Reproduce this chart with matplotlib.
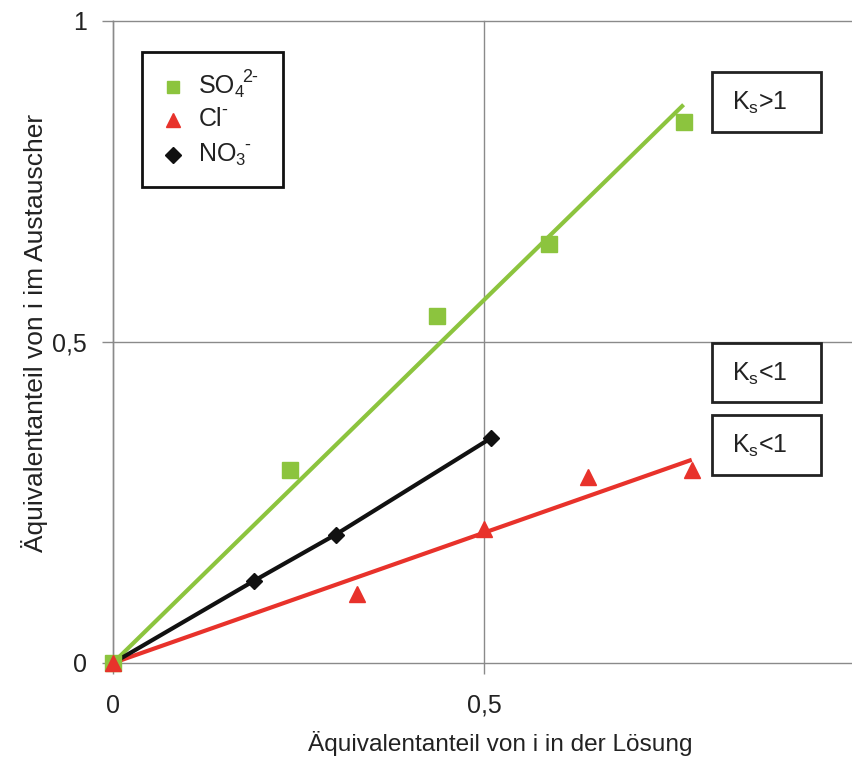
import numpy as np
import matplotlib
matplotlib.use("Agg")
import matplotlib.pyplot as plt
from matplotlib.patches import Rectangle
from matplotlib.lines import Line2D

plt.rcParams['font.family'] = ['Liberation Sans', 'DejaVu Sans']
plt.rcParams['mathtext.fontset'] = 'custom'
plt.rcParams['mathtext.rm'] = 'Liberation Sans'
plt.rcParams['mathtext.it'] = 'Liberation Sans'
plt.rcParams['mathtext.default'] = 'rm'

# Measured equivalent fractions (solution x, exchanger y)
so4_x = [0.0, 0.239, 0.437, 0.587, 0.769]
so4_y = [0.0, 0.300, 0.541, 0.653, 0.842]
cl_x = [0.0, 0.329, 0.500, 0.640, 0.780]
cl_y = [0.0, 0.108, 0.208, 0.289, 0.300]
no3_x = [0.0, 0.190, 0.300, 0.509]
no3_y = [0.0, 0.128, 0.200, 0.350]

ticks = [0, 0.5, 1]
xtick_labels = ["0", "0,5", ""]
ytick_labels = ["0", "0,5", "1"]
xlabel = "Äquivalentanteil von i in der Lösung"
ylabel = "Äquivalentanteil von i im Austauscher"
box_labels = ["K$_s$>1", "K$_s$<1", "K$_s$<1"]
# ion label pieces: (base, subscript, superscript)
ions = [("SO", "4", "2-"), ("Cl", "", "-"), ("NO", "3", "-")]

GREEN = "#8cc43e"
RED = "#e8322b"
BLACK = "#111111"
GRID = "#8a8a8a"
TXT = "#222222"

W, H = 852, 763
fig = plt.figure(figsize=(W / 100, H / 100), dpi=100)

def fx(px):
    return px / W

def fy(py):
    return 1 - py / H

left, right, top, bottom = 113, 855, 21, 663
ax = fig.add_axes([fx(left), fy(bottom), fx(right - left), fy(top) - fy(bottom)])
ax.set_xlim(0, 1)
ax.set_ylim(0, 1)

for s in ["top", "right", "bottom"]:
    ax.spines[s].set_visible(False)
ax.spines["left"].set_color(GRID)
ax.spines["left"].set_linewidth(1.0)

ax.set_xticks(ticks)
ax.set_yticks(ticks)
ax.set_xticklabels(xtick_labels, fontsize=18, color=TXT)
ax.set_yticklabels(ytick_labels, fontsize=18, color=TXT)
ax.tick_params(axis="both", direction="out", length=8, width=1, color=GRID)
ax.tick_params(axis="y", pad=11)
ax.tick_params(axis="x", pad=14)
ax.grid(True, color=GRID, linewidth=1.0)
ax.set_axisbelow(True)
for gl in ax.get_xgridlines() + ax.get_ygridlines():
    gl.set_clip_on(False)

def origin_fit(x, y):
    x = np.asarray(x)
    y = np.asarray(y)
    k = np.sum(x * y) / np.sum(x * x)
    xs = np.array([0.0, x.max()])
    return xs, k * xs

gx, gy = origin_fit(so4_x, so4_y)
rx, ry = origin_fit(cl_x, cl_y)
ax.plot(gx, gy, color=GREEN, lw=3, solid_capstyle="butt", zorder=3)
ax.plot(rx, ry, color=RED, lw=3, solid_capstyle="butt", zorder=3)
ax.plot(no3_x, no3_y, color=BLACK, lw=3, marker="D", ms=8, zorder=4)
ax.plot(so4_x, so4_y, ls="none", marker="s", ms=11, color=GREEN, mec=GREEN, zorder=5, clip_on=False)
ax.plot(cl_x, cl_y, ls="none", marker="^", ms=11, color=RED, mec=RED, zorder=5, clip_on=False)

fig.text(fx(500), fy(744), xlabel, ha="center", va="center", fontsize=17.6, color=TXT)
fig.text(fx(35), fy(333), ylabel, rotation=90, ha="center", va="center",
         fontsize=19, color=TXT)

# Legend frame and entries
fig.add_artist(Rectangle((fx(142), fy(187)), fx(141), fy(52) - fy(187),
                         transform=fig.transFigure, fill=False, ec=BLACK, lw=2))
markers = [("s", GREEN, 9, 87), ("^", RED, 10, 120), ("D", BLACK, 8, 155)]
baselines = [93, 126, 161]
renderer = fig.canvas.get_renderer()
for (m, c, ms, py), (base, sub, sup), bl in zip(markers, ions, baselines):
    fig.add_artist(Line2D([fx(173)], [fy(py)], marker=m, ms=ms, color=c, mec=c,
                          ls="none", transform=fig.transFigure))
    t = fig.text(fx(199), fy(bl), base, ha="left", va="baseline", fontsize=18, color=TXT)
    x_px = t.get_window_extent(renderer).x1 - 1
    if sub:
        ts = fig.text(fx(x_px), fy(bl + 4), sub, ha="left", va="baseline",
                      fontsize=12, color=TXT)
        x_px = ts.get_window_extent(renderer).x1 - 1
    fig.text(fx(x_px), fy(bl - 11), sup, ha="left", va="baseline", fontsize=13, color=TXT)

# Selectivity boxes
for lab, (y0, y1) in zip(box_labels, [(72, 132), (343, 402), (415, 475)]):
    fig.add_artist(Rectangle((fx(712), fy(y1)), fx(109), fy(y0) - fy(y1),
                             transform=fig.transFigure, fill=False, ec=TXT, lw=2))
    fig.text(fx(760), fy((y0 + y1) / 2 + 1), lab, ha="center", va="center",
             fontsize=18, color=TXT)

fig.savefig("out.png", dpi=100)
